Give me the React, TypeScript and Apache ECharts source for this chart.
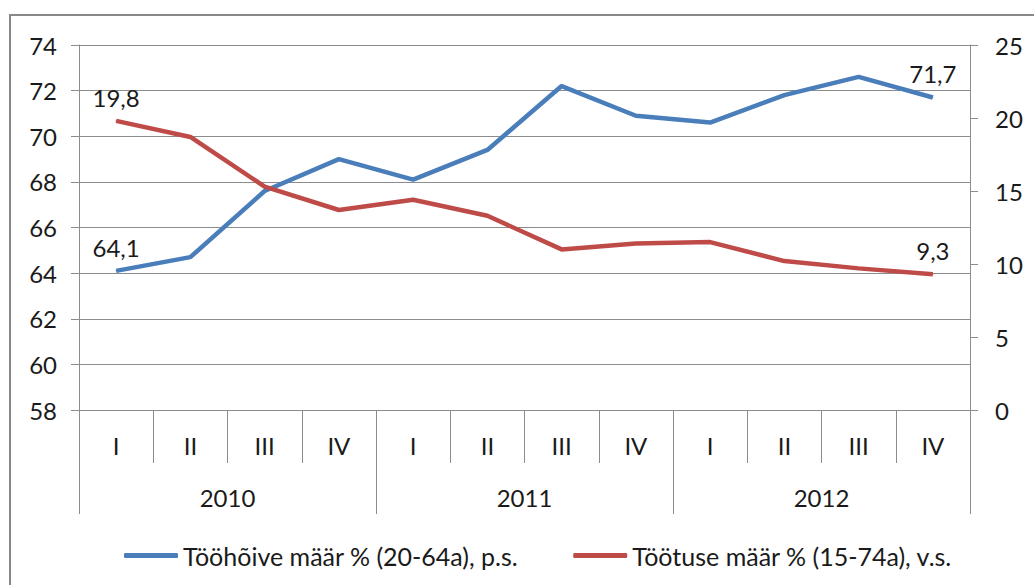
import React, { useEffect, useRef } from "react";
import * as echarts from "echarts";

const quarters = ["I", "II", "III", "IV", "I", "II", "III", "IV", "I", "II", "III", "IV"];
const years = ["2010", "2011", "2012"];
const employment = [64.1, 64.7, 67.6, 69.0, 68.1, 69.4, 72.2, 70.9, 70.6, 71.8, 72.6, 71.7];
const unemployment = [19.8, 18.7, 15.3, 13.7, 14.4, 13.3, 11.0, 11.4, 11.5, 10.2, 9.7, 9.3];
const seriesNames = ["Tööhõive määr % (20-64a), p.s.", "Töötuse määr % (15-74a), v.s."];

const FONT = "Lato";
const GRAY = "#8c8c8c";
const TEXT = "#1a1a1a";
const FS = 24;

function withEndLabels(values: number[]) {
  return values.map((v, i) => ({
    value: v,
    label: { show: i === 0 || i === values.length - 1 },
  }));
}

export default function App() {
  const ref = useRef<HTMLDivElement>(null);
  useEffect(() => {
    if (!ref.current) return;
    const chart = echarts.init(ref.current, undefined, { renderer: "svg" });
    const labelStyle = {
      position: "top" as const,
      distance: 11,
      fontFamily: FONT,
      fontSize: FS,
      color: TEXT,
      formatter: (p: any) => String(p.value).replace(".", ","),
    };
    chart.setOption({
      animation: false,
      backgroundColor: "#fff",
      graphic: [
        {
          type: "rect",
          shape: { x: 10, y: 15, width: 1100, height: 700 },
          style: { fill: "none", stroke: "#888", lineWidth: 2 },
          silent: true,
        },
        {
          type: "line",
          shape: { x1: 970.5, y1: 410, x2: 970.5, y2: 514 },
          style: { stroke: GRAY, lineWidth: 1 },
          silent: true,
        },
      ],
      grid: { left: 79, right: 64, top: 45, bottom: 175 },
      legend: {
        left: 119,
        top: 538,
        itemWidth: 54,
        itemHeight: 5,
        itemGap: 55,
        icon: "roundRect",
        textStyle: { fontFamily: FONT, fontSize: 25, color: TEXT },
        data: seriesNames,
      },
      xAxis: [
        {
          type: "category",
          data: quarters,
          position: "bottom",
          axisLine: { show: true, lineStyle: { color: GRAY } },
          axisTick: { show: true, interval: 0, length: 53, lineStyle: { color: GRAY } },
          axisLabel: { interval: 0, margin: 23, fontFamily: FONT, fontSize: FS, color: TEXT },
        },
        {
          type: "category",
          data: years,
          position: "bottom",
          axisLine: { show: false },
          axisTick: { show: true, interval: 0, length: 104, lineStyle: { color: GRAY } },
          axisLabel: { interval: 0, margin: 75, fontFamily: FONT, fontSize: FS, color: TEXT },
        },
      ],
      yAxis: [
        {
          type: "value",
          min: 58,
          max: 74,
          interval: 2,
          position: "left",
          axisLine: { show: true, lineStyle: { color: GRAY } },
          axisTick: { show: true, length: 8, lineStyle: { color: GRAY } },
          splitLine: { show: true, lineStyle: { color: GRAY, width: 1 } },
          axisLabel: { margin: 22, fontFamily: FONT, fontSize: FS, color: TEXT },
        },
        {
          type: "value",
          min: 0,
          max: 25,
          interval: 5,
          position: "right",
          axisLine: { show: true, lineStyle: { color: GRAY } },
          axisTick: { show: true, length: 8, lineStyle: { color: GRAY } },
          splitLine: { show: false },
          axisLabel: { margin: 25, fontFamily: FONT, fontSize: FS, color: TEXT },
        },
      ],
      series: [
        {
          name: seriesNames[0],
          type: "line",
          xAxisIndex: 0,
          yAxisIndex: 0,
          data: withEndLabels(employment),
          symbol: "circle",
          symbolSize: 1,
          lineStyle: { color: "#4a7ebb", width: 4.5 },
          itemStyle: { color: "#4a7ebb" },
          label: labelStyle,
        },
        {
          name: seriesNames[1],
          type: "line",
          xAxisIndex: 0,
          yAxisIndex: 1,
          data: withEndLabels(unemployment),
          symbol: "circle",
          symbolSize: 1,
          lineStyle: { color: "#be4b48", width: 4.5 },
          itemStyle: { color: "#be4b48" },
          label: labelStyle,
        },
      ],
    });
    return () => chart.dispose();
  }, []);
  return (
    <div
      ref={ref}
      style={{ position: "fixed", left: 0, top: 0, width: 1034, height: 585 }}
    />
  );
}
